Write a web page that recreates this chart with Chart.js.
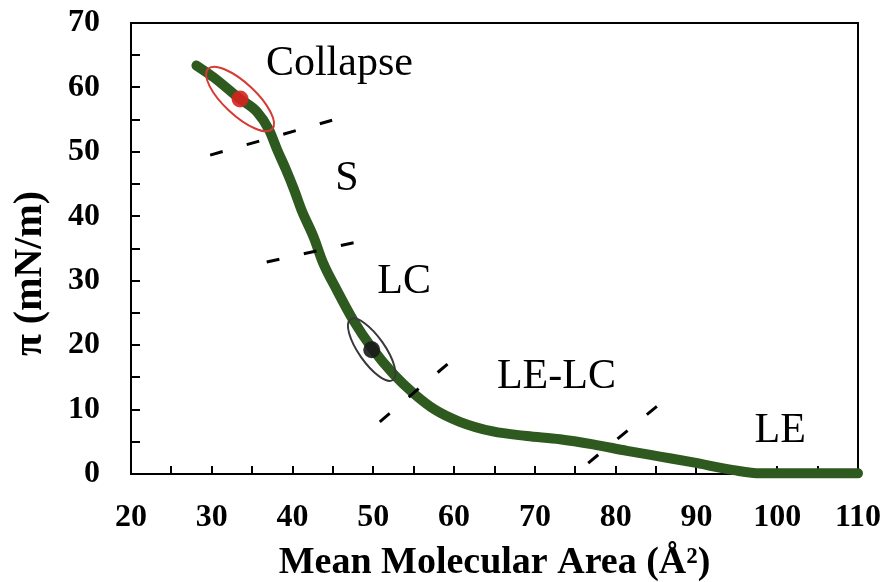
<!DOCTYPE html>
<html>
<head>
<meta charset="utf-8">
<script src="https://cdn.jsdelivr.net/npm/chart.js@4.4.0/dist/chart.umd.min.js"></script>
<style>
  html, body { margin: 0; padding: 0; background: #fff; }
</style>
</head>
<body>
<canvas id="isotherm" width="887" height="582"></canvas>
<script>
// pi-A isotherm
const areaValues = [28.1, 30.2, 33.4, 35.6, 37.1, 38.1, 39.2, 40.2, 41.1, 42.6, 43.8, 45.5, 47.5, 49.8,
  52.5, 55.0, 57.6, 60.7, 64.8, 69.0, 73.1, 77.2, 81.4, 85.5, 89.6, 94.6, 97.9, 104, 110];
const pressureValues = [63.4, 61.6, 58.3, 56.2, 53.4, 50.3, 47.2, 44.1, 41.0, 36.8, 32.7, 28.5, 23.9, 19.6,
  15.5, 12.5, 10.0, 8.1, 6.6, 5.9, 5.4, 4.6, 3.6, 2.7, 1.8, 0.6, 0.1, 0.1, 0.1];

// marked points (collapse, LC)
const markerArea = [33.5, 49.8];
const markerPressure = [58.2, 19.3];

// dashed phase boundaries: start / end
const boundaryStartArea = [29.8, 36.8, 50.8, 76.6];
const boundaryStartPressure = [49.5, 32.9, 8.1, 1.7];
const boundaryEndArea = [44.9, 47.9, 59.5, 85.3];
const boundaryEndPressure = [54.9, 36.0, 17.4, 10.7];

// phase labels
const phaseNames = ['Collapse', 'S', 'LC', 'LE-LC', 'LE'];
const phaseArea = [36.7, 45.3, 50.5, 65.3, 97.2];
const phasePressure = [61.9, 44.1, 28.1, 13.3, 5.0];

// axis ticks
const xMin = 20, xMax = 110, yMin = 0, yMax = 70, minorStep = 5, majorStep = 10;

const SERIF = '"Liberation Serif", "Times New Roman", serif';
Chart.defaults.font.family = SERIF;
Chart.defaults.color = '#000';

const curve = areaValues.map((a, i) => ({ x: a, y: pressureValues[i] }));

// ellipses around the marked points
const ellipses = [
  { i: 0, rx: 44, ry: 16, rot: 43, color: '#d63a32' },
  { i: 1, rx: 37, ry: 13, rot: 55, color: '#3a3a3a' }
];

const datasets = [];

// dots on top
datasets.push({
  type: 'scatter',
  data: [{ x: markerArea[0], y: markerPressure[0] }],
  pointRadius: 8.5,
  pointBackgroundColor: 'rgba(214, 34, 28, 0.9)',
  pointBorderWidth: 0
});
datasets.push({
  type: 'scatter',
  data: [{ x: markerArea[1], y: markerPressure[1] }],
  pointRadius: 8.5,
  pointBackgroundColor: 'rgba(25, 25, 25, 0.9)',
  pointBorderWidth: 0
});

// dashed boundaries
boundaryStartArea.forEach((a, i) => {
  datasets.push({
    type: 'line',
    data: [{ x: a, y: boundaryStartPressure[i] }, { x: boundaryEndArea[i], y: boundaryEndPressure[i] }],
    borderColor: '#000',
    borderWidth: 3,
    borderDash: [13, 25],
    pointRadius: 0,
    clip: false
  });
});

// the isotherm itself
datasets.push({
  type: 'line',
  data: curve,
  borderColor: '#2f5a1f',
  borderWidth: 10,
  borderCapStyle: 'round',
  borderJoinStyle: 'round',
  cubicInterpolationMode: 'monotone',
  pointRadius: 0,
  clip: false
});

const framePlugin = {
  id: 'frame',
  beforeDatasetsDraw(chart) {
    const { ctx, chartArea: a, scales: { x, y } } = chart;
    ctx.save();
    ctx.strokeStyle = '#000';
    ctx.lineWidth = 2;
    ctx.strokeRect(a.left, a.top, a.right - a.left, a.bottom - a.top);
    ctx.beginPath();
    x.ticks.forEach(t => {
      if (t.value <= xMin || t.value >= xMax) return;
      const px = Math.round(x.getPixelForValue(t.value));
      ctx.moveTo(px, a.bottom);
      ctx.lineTo(px, a.bottom - 8);
    });
    y.ticks.forEach(t => {
      if (t.value <= yMin || t.value >= yMax) return;
      const py = Math.round(y.getPixelForValue(t.value));
      ctx.moveTo(a.left, py);
      ctx.lineTo(a.left + 9, py);
    });
    ctx.stroke();
    ctx.restore();
  }
};

const notesPlugin = {
  id: 'notes',
  afterDatasetsDraw(chart) {
    const { ctx, scales: { x, y } } = chart;
    ctx.save();
    ellipses.forEach(e => {
      ctx.beginPath();
      ctx.ellipse(x.getPixelForValue(markerArea[e.i]), y.getPixelForValue(markerPressure[e.i]),
        e.rx, e.ry, e.rot * Math.PI / 180, 0, Math.PI * 2);
      ctx.strokeStyle = e.color;
      ctx.lineWidth = 2;
      ctx.stroke();
    });
    ctx.fillStyle = '#000';
    ctx.font = '42px ' + SERIF;
    ctx.textAlign = 'left';
    ctx.textBaseline = 'alphabetic';
    phaseNames.forEach((name, i) => {
      ctx.fillText(name, x.getPixelForValue(phaseArea[i]), y.getPixelForValue(phasePressure[i]));
    });
    ctx.restore();
  }
};

new Chart(document.getElementById('isotherm'), {
  type: 'line',
  data: { datasets },
  options: {
    responsive: false,
    animation: false,
    layout: { padding: { top: 23, right: 29, left: 0, bottom: 0 } },
    plugins: { legend: { display: false }, tooltip: { enabled: false } },
    scales: {
      x: {
        type: 'linear',
        min: xMin,
        max: xMax,
        border: { display: false },
        grid: { display: false, drawTicks: false },
        ticks: {
          stepSize: minorStep,
          autoSkip: false,
          maxRotation: 0,
          padding: 25,
          font: { size: 32, weight: 'bold' },
          callback: v => (v % majorStep === 0 ? v : '')
        },
        title: {
          display: true,
          text: 'Mean Molecular Area (Å²)',
          font: { size: 38, weight: 'bold', lineHeight: 1 },
          padding: { top: 0, bottom: 0 }
        },
        afterFit: s => { s.height = 108; s.paddingLeft = 0; s.paddingRight = 0; }
      },
      y: {
        min: yMin,
        max: yMax,
        border: { display: false },
        grid: { display: false, drawTicks: false },
        ticks: {
          stepSize: minorStep,
          autoSkip: false,
          padding: 31,
          font: { size: 32, weight: 'bold' },
          callback: v => (v % majorStep === 0 ? v : '')
        },
        title: {
          display: true,
          text: 'π (mN/m)     ',
          font: { size: 40, weight: 'bold', lineHeight: 1 },
          padding: { top: 11, bottom: 0 }
        },
        afterFit: s => { s.width = 131; s.paddingTop = 0; s.paddingBottom = 0; }
      }
    }
  },
  plugins: [framePlugin, notesPlugin]
});
</script>
</body>
</html>
